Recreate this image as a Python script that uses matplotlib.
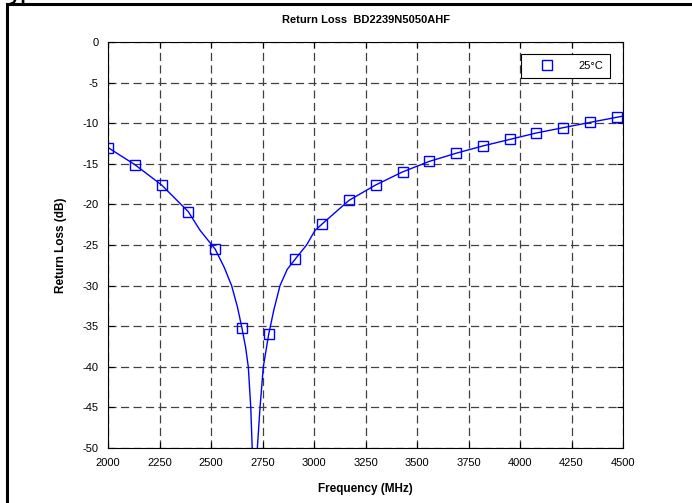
import matplotlib
matplotlib.use('agg')
import matplotlib.pyplot as plt
from matplotlib.patches import Rectangle

plt.rcParams['font.family'] = ['Liberation Sans', 'DejaVu Sans']
plt.rcParams['axes.unicode_minus'] = False

# measured points (markers)
freq_pts = [2000, 2130, 2260, 2390, 2520, 2650, 2780, 2910, 3040, 3170,
            3300, 3430, 3560, 3690, 3820, 3950, 4080, 4210, 4340, 4470]
rl_pts = [-13.0, -15.1, -17.6, -20.9, -25.5, -35.2, -36.0, -26.7, -22.4, -19.5,
          -17.6, -16.0, -14.7, -13.7, -12.8, -12.0, -11.2, -10.55, -9.9, -9.27]

# fitted curve
freq_curve = [2000, 2130, 2260, 2390, 2447, 2520, 2565, 2600, 2628, 2650, 2668,
              2681, 2693, 2700, 2712, 2725, 2738, 2754, 2780, 2805, 2835, 2870,
              2910, 2964, 3005, 3040, 3170, 3300, 3430, 3560, 3690, 3820, 3950,
              4080, 4210, 4340, 4470, 4500]
rl_curve = [-13.0, -15.1, -17.6, -20.9, -23.2, -25.5, -27.8, -30.0, -32.6, -35.2, -37.6,
            -40.0, -45.0, -50.0, -58.0, -50.0, -45.0, -40.0, -36.0, -33.0, -30.0, -28.0,
            -26.7, -25.0, -23.2, -22.4, -19.5, -17.6, -16.0, -14.7, -13.7, -12.8, -12.0,
            -11.2, -10.55, -9.9, -9.27, -9.12]

xticks = list(range(2000, 4501, 250))
yticks = list(range(-50, 1, 5))

fig = plt.figure(figsize=(6.92, 5.03), dpi=100)
ax = fig.add_axes([108/692, 1 - 448/503, 515/692, 406/503])

ax.plot(freq_curve, rl_curve, color='#0000ff', lw=1.0)
ax.plot(freq_pts, rl_pts, ls='none', marker='s', ms=6.5, mfc='none', mec='#0000ff',
        mew=1.0, label='25°C')

ax.set_xlim(2000, 4500)
ax.set_ylim(-50, 0)
ax.set_xticks(xticks)
ax.set_yticks(yticks)
ax.tick_params(direction='in', length=4, width=0.8, top=True, right=True,
               labelsize=8, pad=7)
ax.grid(True, color='0.25', ls=(0, (6.5, 3.5)), lw=0.9)
for s in ax.spines.values():
    s.set_linewidth(0.8)

ax.set_title('Return Loss  BD2239N5050AHF', fontsize=8, fontweight='bold', pad=14)
ax.set_xlabel('Frequency (MHz)', fontsize=8.5, fontweight='bold', labelpad=11)
ax.set_ylabel('Return Loss (dB)', fontsize=8.5, fontweight='bold', labelpad=11)

leg = ax.legend(loc='upper right', bbox_to_anchor=(0.975, 0.97), fontsize=8,
                fancybox=False, edgecolor='black', framealpha=1, handlelength=3.6,
                borderpad=0.6, handletextpad=1.0, borderaxespad=0)
leg.get_frame().set_linewidth(0.8)

# outer frame and cut-off heading
fig.patches.append(Rectangle((7/692, -0.1), 1.2, 1 - 4/503 + 0.1, transform=fig.transFigure,
                             fill=False, edgecolor='black', lw=2.2))
fig.text(0.0, 1.0, 'Typical', fontsize=14, fontweight='bold', va='baseline')

fig.savefig('out.png', dpi=100)
